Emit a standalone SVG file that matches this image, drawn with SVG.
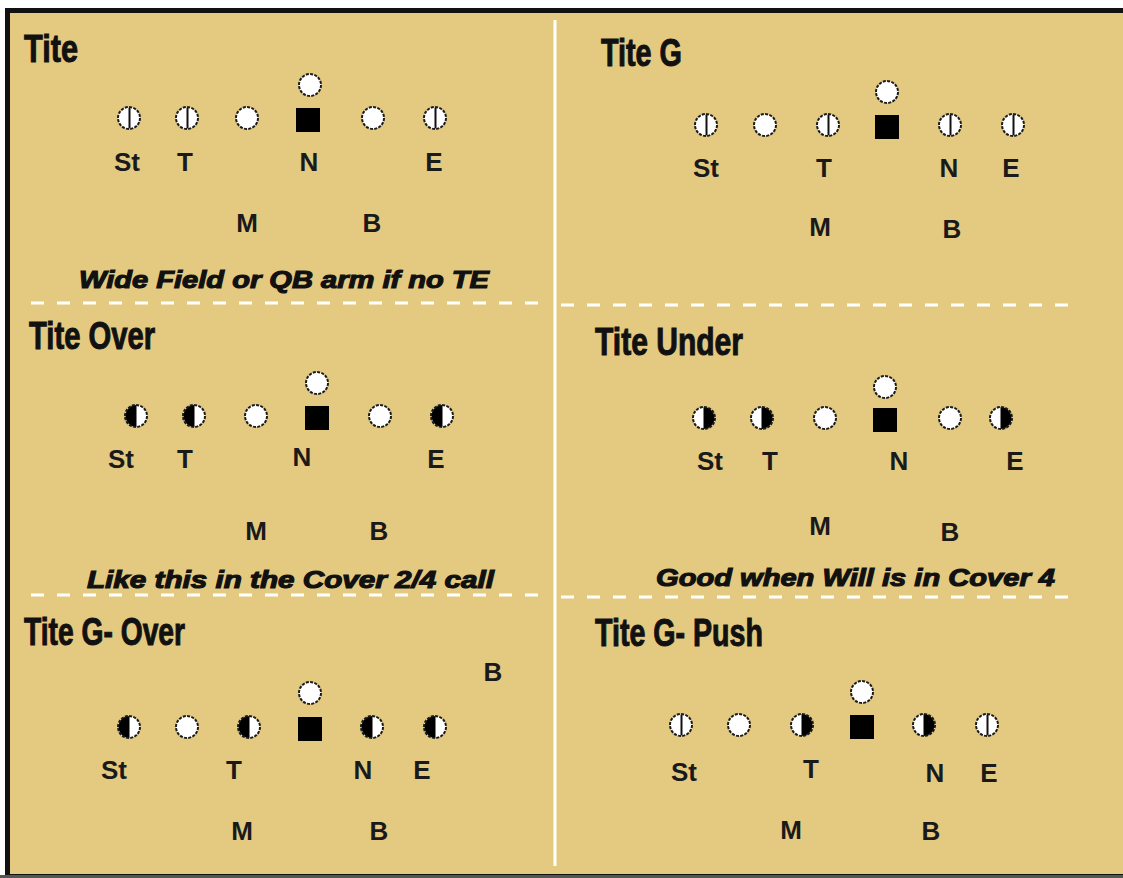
<svg xmlns="http://www.w3.org/2000/svg" width="1123" height="878" viewBox="0 0 1123 878">
<style>
.title{font-family:"Liberation Sans Narrow","Liberation Sans",Arial,sans-serif;font-weight:bold;font-size:38px;fill:#111;stroke:#111;stroke-width:1}
.lbl{font-family:"Liberation Sans",Arial,sans-serif;font-weight:bold;font-size:26px;fill:#1a1a1a;text-anchor:middle}
.cap{font-family:"Liberation Sans",Arial,sans-serif;font-weight:bold;font-style:italic;font-size:23px;fill:#111;stroke:#111;stroke-width:1.1}
.ring{fill:none;stroke:#1a1a1a;stroke-width:2;stroke-dasharray:3 1.3}
.dash{stroke:#fff;stroke-width:3;stroke-dasharray:13 13;fill:none}
</style>
<defs>
<g id="o"><circle r="11" fill="#fff"/><circle r="11" class="ring"/></g>
<g id="s"><circle r="11" fill="#fff"/><line x1="0.5" y1="-10.5" x2="0.5" y2="10.5" stroke="#111" stroke-width="2"/><circle r="11" class="ring"/></g>
<g id="l"><circle r="11" fill="#fff"/><path d="M0.5,-11 A11,11 0 0 0 0.5,11 Z" fill="#000"/><circle r="11" class="ring"/></g>
<g id="r"><circle r="11" fill="#fff"/><path d="M-0.5,-11 A11,11 0 0 1 -0.5,11 Z" fill="#000"/><circle r="11" class="ring"/></g>
<g id="q"><rect x="-12" y="-12" width="24" height="24" fill="#000"/></g>
</defs>
<rect width="1123" height="878" fill="#fff"/>
<rect id="frame" x="7.5" y="10.5" width="1140" height="866" fill="#E4CA81" stroke="#111" stroke-width="5"/>
<line x1="0" y1="876.5" x2="1123" y2="876.5" stroke="#555" stroke-width="3"/>
<g id="dividers">
<line x1="555" y1="20" x2="555" y2="866" stroke="#fff" stroke-width="3"/>
<line class="dash" x1="31" y1="303" x2="550" y2="303"/>
<line class="dash" x1="561" y1="305" x2="1075" y2="305"/>
<line class="dash" x1="31" y1="595" x2="550" y2="595"/>
<line class="dash" x1="561" y1="597" x2="1075" y2="597"/>
</g>
<g id="tite">
<text class="title" x="24" y="62" textLength="54" lengthAdjust="spacingAndGlyphs">Tite</text>
<use href="#o" x="310" y="85"/>
<use href="#s" x="129" y="118"/><use href="#s" x="187" y="118"/><use href="#o" x="247" y="118"/>
<use href="#q" x="308" y="120"/><use href="#o" x="373" y="118"/><use href="#s" x="435" y="118"/>
<text class="lbl" x="127" y="171">St</text><text class="lbl" x="185" y="171">T</text>
<text class="lbl" x="309" y="171">N</text><text class="lbl" x="434" y="171">E</text>
<text class="lbl" x="247" y="232">M</text><text class="lbl" x="372" y="232">B</text>
<text class="cap" x="79" y="288" textLength="410" lengthAdjust="spacingAndGlyphs">Wide Field or QB arm if no TE</text>
</g>
<g id="tite-g">
<text class="title" x="601" y="66" textLength="81" lengthAdjust="spacingAndGlyphs">Tite G</text>
<use href="#o" x="887" y="92"/>
<use href="#s" x="706" y="125"/><use href="#o" x="765" y="125"/><use href="#s" x="828" y="125"/>
<use href="#q" x="887" y="127"/><use href="#s" x="950" y="125"/><use href="#s" x="1013" y="125"/>
<text class="lbl" x="706" y="177">St</text><text class="lbl" x="824" y="177">T</text>
<text class="lbl" x="949" y="177">N</text><text class="lbl" x="1011" y="177">E</text>
<text class="lbl" x="820" y="236">M</text><text class="lbl" x="952" y="238">B</text>
</g>
<g id="tite-over">
<text class="title" x="29" y="349" textLength="126" lengthAdjust="spacingAndGlyphs">Tite Over</text>
<use href="#o" x="317" y="383"/>
<use href="#l" x="136" y="416"/><use href="#l" x="194" y="416"/><use href="#o" x="256" y="416"/>
<use href="#q" x="317" y="418"/><use href="#o" x="380" y="416"/><use href="#l" x="442" y="416"/>
<text class="lbl" x="121" y="468">St</text><text class="lbl" x="185" y="468">T</text>
<text class="lbl" x="302" y="466">N</text><text class="lbl" x="436" y="468">E</text>
<text class="lbl" x="256" y="540">M</text><text class="lbl" x="379" y="540">B</text>
<text class="cap" x="87" y="588" textLength="407" lengthAdjust="spacingAndGlyphs">Like this in the Cover 2/4 call</text>
</g>
<g id="tite-under">
<text class="title" x="595" y="355" textLength="148" lengthAdjust="spacingAndGlyphs">Tite Under</text>
<use href="#o" x="885" y="387"/>
<use href="#r" x="704" y="418"/><use href="#r" x="762" y="418"/><use href="#o" x="825" y="418"/>
<use href="#q" x="885" y="420"/><use href="#o" x="950" y="418"/><use href="#r" x="1001" y="418"/>
<text class="lbl" x="710" y="470">St</text><text class="lbl" x="770" y="470">T</text>
<text class="lbl" x="899" y="470">N</text><text class="lbl" x="1015" y="470">E</text>
<text class="lbl" x="820" y="535">M</text><text class="lbl" x="950" y="541">B</text>
<text class="cap" x="656" y="586" textLength="399" lengthAdjust="spacingAndGlyphs">Good when Will is in Cover 4</text>
</g>
<g id="tite-g-over">
<text class="title" x="24" y="645" textLength="161" lengthAdjust="spacingAndGlyphs">Tite G- Over</text>
<text class="lbl" x="493" y="681">B</text>
<use href="#o" x="310" y="693"/>
<use href="#l" x="129" y="727"/><use href="#o" x="187" y="727"/><use href="#l" x="249" y="727"/>
<use href="#q" x="310" y="729"/><use href="#l" x="372" y="727"/><use href="#l" x="435" y="727"/>
<text class="lbl" x="114" y="779">St</text><text class="lbl" x="234" y="779">T</text>
<text class="lbl" x="363" y="779">N</text><text class="lbl" x="422" y="779">E</text>
<text class="lbl" x="242" y="840">M</text><text class="lbl" x="379" y="840">B</text>
</g>
<g id="tite-g-push">
<text class="title" x="595" y="646" textLength="168" lengthAdjust="spacingAndGlyphs">Tite G- Push</text>
<use href="#o" x="862" y="692"/>
<use href="#s" x="681" y="725"/><use href="#o" x="739" y="725"/><use href="#r" x="802" y="725"/>
<use href="#q" x="862" y="727"/><use href="#r" x="924" y="725"/><use href="#s" x="987" y="725"/>
<text class="lbl" x="684" y="781">St</text><text class="lbl" x="811" y="778">T</text>
<text class="lbl" x="935" y="782">N</text><text class="lbl" x="989" y="782">E</text>
<text class="lbl" x="791" y="839">M</text><text class="lbl" x="931" y="840">B</text>
</g>
</svg>
